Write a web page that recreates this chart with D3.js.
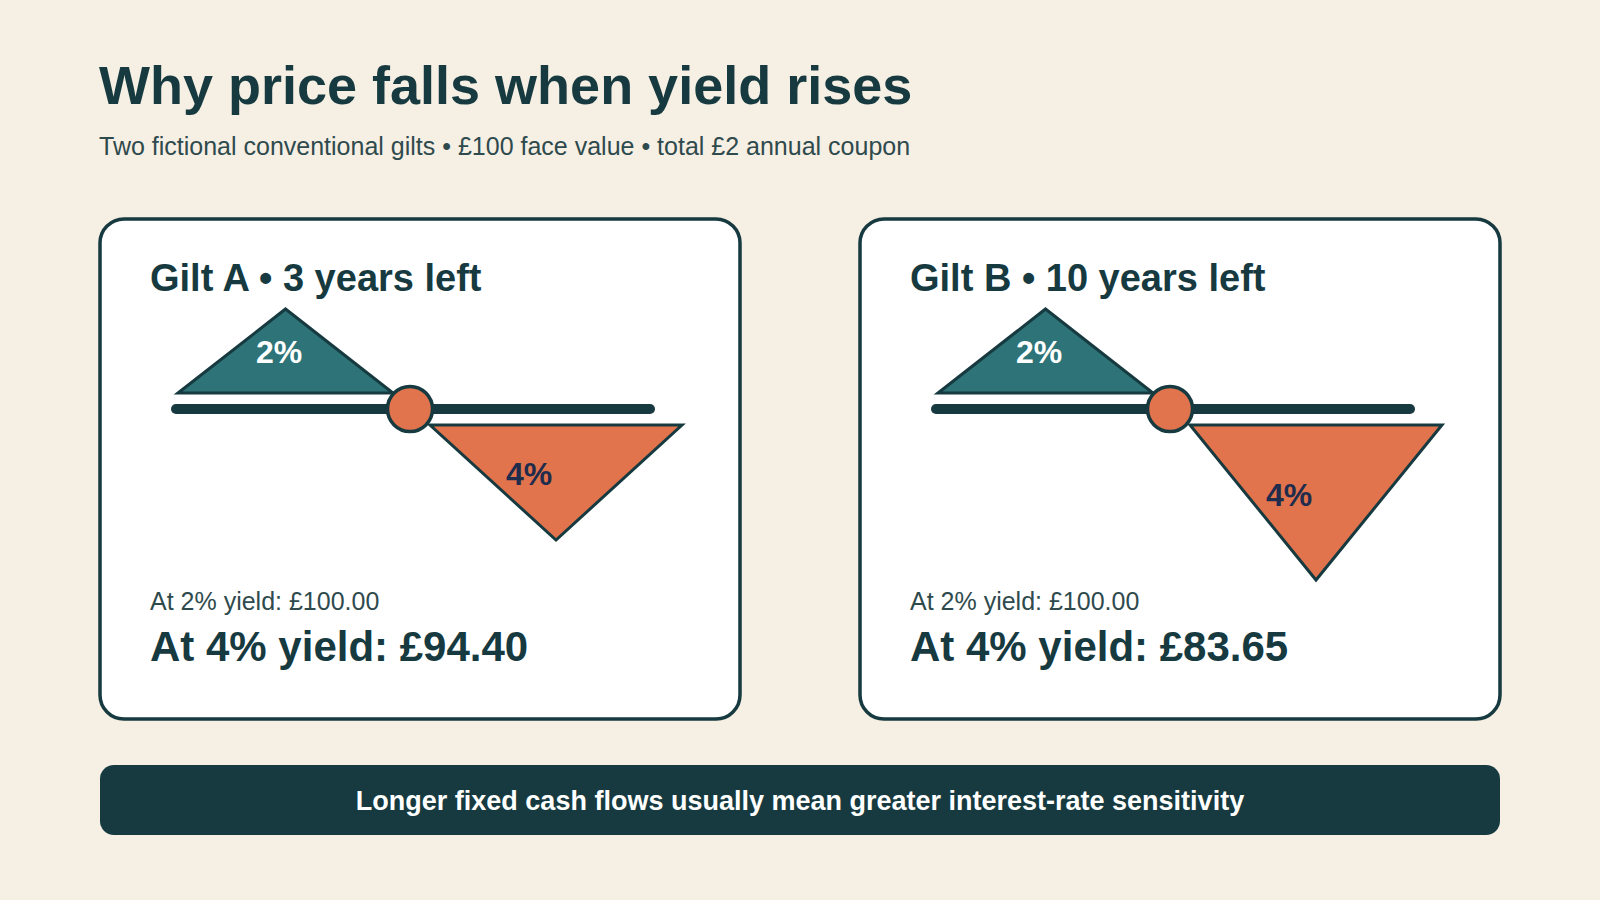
<!DOCTYPE html>
<html>
<head>
<meta charset="utf-8">
<script src="https://cdn.jsdelivr.net/npm/d3@7"></script>
<style>
  html, body { margin: 0; padding: 0; background: #f6efe4; }
  svg { display: block; }
  text { font-family: "Liberation Sans", Arial, Helvetica, sans-serif; }
</style>
</head>
<body>
<svg id="chart" width="1600" height="900"></svg>
<script>
// ---- data ----
const giltNames = ["Gilt A", "Gilt B"];
const yearsLeft = [3, 10];
const yieldLabels = ["2%", "4%"];
const priceAt2 = [100.00, 100.00];
const priceAt4 = [94.40, 83.65];
const titleText = "Why price falls when yield rises";
const subtitleText = "Two fictional conventional gilts \u2022 \u00a3100 face value \u2022 total \u00a32 annual coupon";
const bannerText = "Longer fixed cash flows usually mean greater interest-rate sensitivity";

// ---- styling ----
const C = {
  bg: "#f6efe4",
  dark: "#163a3f",
  teal: "#2d7377",
  orange: "#e2744d",
  navy: "#1f2c4c",
  sub: "#2f4a4d"
};

const svg = d3.select("#chart");
svg.append("rect").attr("width", 1600).attr("height", 900).attr("fill", C.bg);

svg.append("text").attr("x", 99).attr("y", 104)
  .attr("font-size", 54).attr("font-weight", 700).attr("fill", C.dark)
  .text(titleText);
svg.append("text").attr("x", 99).attr("y", 155)
  .attr("font-size", 25).attr("fill", C.sub)
  .text(subtitleText);

// card placement via band scale
const xCard = d3.scaleBand().domain(giltNames).range([100, 1500]).paddingInner(120 / 760);
// price drop -> depth of the "4%" triangle
const depth = d3.scaleLinear().domain([0, 20]).range([94.2, 168.6]);
const fmt = d3.format(".2f");

giltNames.forEach((name, i) => {
  const x0 = xCard(name);
  const g = svg.append("g");
  g.append("rect").attr("x", x0).attr("y", 219).attr("width", xCard.bandwidth()).attr("height", 500)
    .attr("rx", 24).attr("fill", "#ffffff").attr("stroke", C.dark).attr("stroke-width", 3.5);

  g.append("text").attr("x", x0 + 50).attr("y", 291)
    .attr("font-size", 38).attr("font-weight", 700).attr("fill", C.dark)
    .text(`${name} \u2022 ${yearsLeft[i]} years left`);

  // teal (2%) triangle
  const tri1 = [[x0 + 78, 393], [x0 + 185.5, 309], [x0 + 293, 393]];
  g.append("path").attr("d", d3.line()(tri1) + "Z")
    .attr("fill", C.teal).attr("stroke", C.dark).attr("stroke-width", 3).attr("stroke-linejoin", "miter");

  // beam
  g.append("line").attr("x1", x0 + 76).attr("x2", x0 + 550).attr("y1", 409).attr("y2", 409)
    .attr("stroke", C.dark).attr("stroke-width", 10).attr("stroke-linecap", "round");

  // orange (4%) triangle
  const d = depth(priceAt2[i] - priceAt4[i]);
  const tri2 = [[x0 + 330, 425], [x0 + 582, 425], [x0 + 456, 425 + d]];
  g.append("path").attr("d", d3.line()(tri2) + "Z")
    .attr("fill", C.orange).attr("stroke", C.dark).attr("stroke-width", 3).attr("stroke-linejoin", "miter");

  // pivot
  g.append("circle").attr("cx", x0 + 310).attr("cy", 409).attr("r", 22.5)
    .attr("fill", C.orange).attr("stroke", C.dark).attr("stroke-width", 3.5);

  g.append("text").attr("x", x0 + 179).attr("y", 363).attr("text-anchor", "middle")
    .attr("font-size", 32).attr("font-weight", 700).attr("fill", "#ffffff")
    .text(yieldLabels[0]);
  g.append("text").attr("x", x0 + 429).attr("y", 425 + 0.52 * d).attr("text-anchor", "middle")
    .attr("font-size", 32).attr("font-weight", 700).attr("fill", C.navy)
    .text(yieldLabels[1]);

  g.append("text").attr("x", x0 + 50).attr("y", 610)
    .attr("font-size", 25).attr("fill", C.sub)
    .text(`At ${yieldLabels[0]} yield: \u00a3${fmt(priceAt2[i])}`);
  g.append("text").attr("x", x0 + 50).attr("y", 661)
    .attr("font-size", 42).attr("font-weight", 700).attr("fill", C.dark)
    .text(`At ${yieldLabels[1]} yield: \u00a3${fmt(priceAt4[i])}`);
});

// banner
svg.append("rect").attr("x", 100).attr("y", 765).attr("width", 1400).attr("height", 70)
  .attr("rx", 14).attr("fill", C.dark);
svg.append("text").attr("x", 800).attr("y", 810).attr("text-anchor", "middle")
  .attr("font-size", 27).attr("font-weight", 700).attr("fill", "#ffffff")
  .text(bannerText);
</script>
</body>
</html>
